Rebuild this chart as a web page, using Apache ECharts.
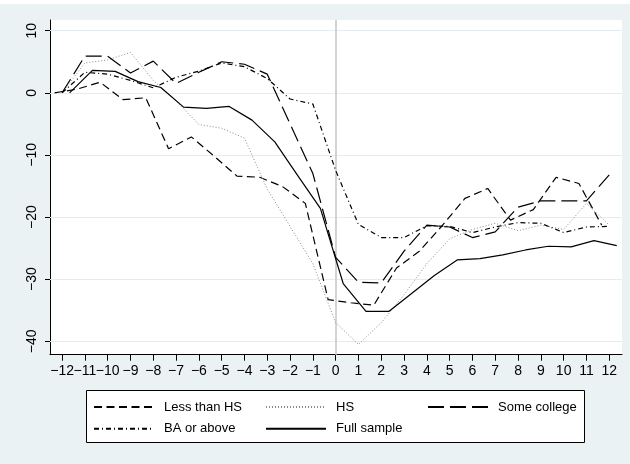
<!DOCTYPE html>
<html><head><meta charset="utf-8">
<script src="https://cdn.jsdelivr.net/npm/echarts@6/dist/echarts.min.js"></script>
<style>html,body{margin:0;padding:0;background:#fff}#c{width:630px;height:464px}</style>
</head><body><div id="c"></div>
<script>
// ---- data ----
const xTicksEven = [-12,-10,-8,-6,-4,-2,0,2,4,6,8,10,12];
const xTicksOdd  = [-11,-9,-7,-5,-3,-1,1,3,5,7,9,11];
const yTicks = [-40,-30,-20,-10,0,10];

const xLessHS = [-12.33,-11.33,-10.33,-9.33,-8.33,-7.33,-6.33,-5.33,-4.33,-3.33,-2.33,-1.33,-0.33,0.67,1.67,2.67,3.67,4.67,5.67,6.67,7.67,8.67,9.67,10.67,11.67];
const xMid    = [-12,-11,-10,-9,-8,-7,-6,-5,-4,-3,-2,-1,0,1,2,3,4,5,6,7,8,9,10,11,12];
const xFull   = [-11.67,-10.67,-9.67,-8.67,-7.67,-6.67,-5.67,-4.67,-3.67,-2.67,-1.67,-0.67,0.33,1.33,2.33,3.33,4.33,5.33,6.33,7.33,8.33,9.33,10.33,11.33,12.33];

const lessHS      = [0,0.6,1.7,-1.1,-0.8,-9.0,-7.1,-10.2,-13.4,-13.6,-15.1,-17.8,-33.3,-33.8,-34.2,-28.2,-25.5,-21.4,-17.0,-15.4,-20.5,-18.8,-13.6,-14.6,-21.3];
const hs          = [0,4.8,5.3,6.5,2.0,-1.3,-5.1,-5.7,-7.3,-15.5,-21.5,-27.5,-37.0,-40.5,-37.0,-32.5,-27.5,-23.5,-22.0,-21.0,-22.2,-21.3,-22.0,-17.8,-21.3];
const someCollege = [0,5.9,5.9,3.2,5.1,1.5,3.3,5.0,4.6,3.0,-5.0,-13.0,-26.5,-30.5,-30.6,-25.5,-21.3,-21.6,-23.3,-22.4,-18.4,-17.4,-17.4,-17.4,-13.2];
const baAbove     = [0,3.3,3.0,2.0,0.8,2.5,3.5,4.8,4.2,2.3,-1.0,-1.8,-12.5,-21.2,-23.3,-23.3,-21.4,-21.5,-22.5,-21.6,-20.9,-21.0,-22.5,-21.6,-21.5];
const fullSample  = [0,3.6,3.45,1.8,0.85,-2.3,-2.5,-2.2,-4.4,-7.9,-13.3,-18.6,-30.7,-35.2,-35.2,-32.3,-29.4,-26.9,-26.7,-26.1,-25.3,-24.7,-24.8,-23.8,-24.6];

const names = ['Less than HS','HS','Some college','BA or above','Full sample'];

// ---- chart ----
const FONT = 'Liberation Sans, Arial, Helvetica, sans-serif';
function pairs(xs, ys){ return xs.map((x,i)=>[x, ys[i]]); }
function minus(v){ return String(v).replace('-', '\u2212'); }

const chart = echarts.init(document.getElementById('c'), null, {renderer:'canvas'});

const mk = (name, xs, ys, color, width, dash, extra) => Object.assign({
  name, type:'line', data: pairs(xs, ys), symbol:'none', showSymbol:false, z:3,
  lineStyle:{color, width, type: dash}, itemStyle:{color},
  emphasis:{disabled:true}, silent:true, animation:false
}, extra || {});

const gridLines = yTicks.map(v => ({yAxis:v, lineStyle:{color:'#e3ecef', width:1.2, type:'solid'}}));
gridLines.push({xAxis:0, lineStyle:{color:'#cfcfcf', width:1.8, type:'solid'}});

const legendBase = {orient:'vertical', top:400, itemWidth:60, itemHeight:14, itemGap:7.7,
  selectedMode:false, z:10, padding:0,
  itemStyle:{color:'rgba(0,0,0,0)', borderWidth:0, opacity:0},
  textStyle:{color:'#000', fontSize:13, fontFamily:FONT, padding:[0,0,0,5], lineHeight:14}};

const xAxisBase = (ticks, showLine) => ({
  type:'value', min:-12.53, max:12.56, position:'bottom', offset:0,
  axisLine:{show:showLine, onZero:false, lineStyle:{color:'#000', width:1}},
  axisTick:{show:true, length:6, lineStyle:{color:'#000', width:1}, customValues:ticks},
  axisLabel:{show:true, customValues:ticks, formatter:minus, color:'#000', fontSize:14, fontFamily:FONT, margin:9,
             showMinLabel:true, showMaxLabel:true, hideOverlap:false},
  splitLine:{show:false}
});

const option = {
  animation:false,
  backgroundColor:'#eaf2f3',
  textStyle:{fontFamily:FONT},
  grid:{left:50, right:8, top:20, bottom:109.3, show:true, backgroundColor:'#ffffff', borderWidth:0, containLabel:false},
  xAxis:[ xAxisBase(xTicksEven, true), xAxisBase(xTicksOdd, false) ],
  yAxis:{
    type:'value', min:-42.16, max:11.72,
    axisLine:{show:true, onZero:false, lineStyle:{color:'#000', width:1}},
    axisTick:{show:true, length:5, lineStyle:{color:'#000', width:1}, customValues:yTicks},
    axisLabel:{show:true, customValues:yTicks, formatter:minus, rotate:90, color:'#000', fontSize:14, fontFamily:FONT, margin:11,
               showMinLabel:true, showMaxLabel:true},
    splitLine:{show:false}
  },
  legend:[
    Object.assign({}, legendBase, {data:[names[0], names[3]], left:93}),
    Object.assign({}, legendBase, {data:[names[1], names[4]], left:265}),
    Object.assign({}, legendBase, {data:[names[2]], left:427})
  ],
  graphic:[
    {type:'rect', shape:{x:0, y:0, width:630, height:4}, style:{fill:'#ffffff'}, z:1, silent:true},
    {type:'rect', shape:{x:86.5, y:390.5, width:498, height:52}, style:{fill:'#ffffff', stroke:'#000', lineWidth:1}, z:1, silent:true}
  ],
  series:[
    mk(names[0], xLessHS, lessHS, '#000', 1.2, [8,4.5], {
      markLine:{silent:true, symbol:['none','none'], z:1, label:{show:false}, animation:false, data:gridLines}
    }),
    mk(names[1], xMid, hs, '#8a8a8a', 1, [1,2]),
    mk(names[2], xMid, someCollege, '#000', 1.2, [16,6]),
    mk(names[3], xMid, baAbove, '#000', 1.2, [5,3,1,3]),
    mk(names[4], xFull, fullSample, '#000', 1.2, 'solid')
  ]
};
chart.setOption(option);
</script></body></html>
